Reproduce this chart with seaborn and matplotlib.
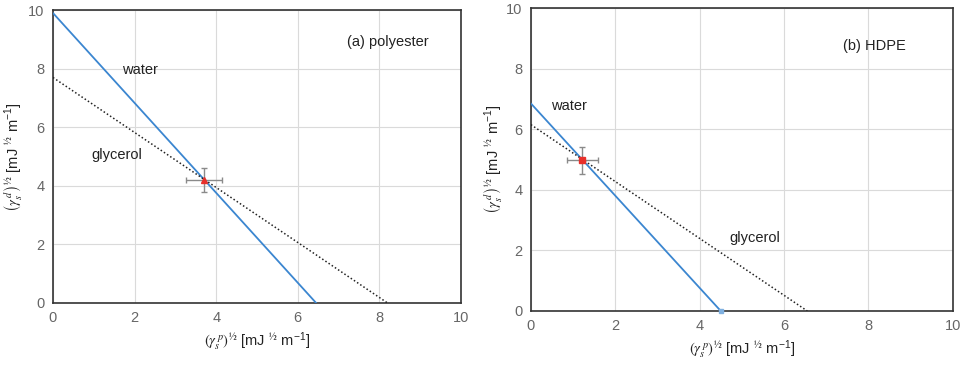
import matplotlib
matplotlib.use("Agg")
import matplotlib.pyplot as plt
import seaborn as sns
import pandas as pd

sns.set_style("white")
plt.rcParams['font.family'] = ['Liberation Sans', 'DejaVu Sans']
plt.rcParams['mathtext.fontset'] = 'stix'

# Panel (a) polyester
a_water_x = [0.0, 6.45]
a_water_y = [9.9, 0.0]
a_gly_x = [0.0, 8.2]
a_gly_y = [7.7, 0.0]
a_pt = (3.7, 4.2)
a_xerr = 0.45
a_yerr = 0.4

# Panel (b) HDPE
b_water_x = [0.0, 4.5]
b_water_y = [6.85, 0.0]
b_gly_x = [0.0, 6.55]
b_gly_y = [6.15, 0.0]
b_pt = (1.22, 4.97)
b_xerr = 0.37
b_yerr = 0.45

ticks = [0, 2, 4, 6, 8, 10]

fig = plt.figure(figsize=(9.6, 3.67), dpi=100)
axA = fig.add_axes([0.0552, 0.1744, 0.425, 0.798])
axB = fig.add_axes([0.553, 0.1526, 0.4396, 0.8256])

BLUE = '#3b86d0'
xlab = r'$\left(\gamma_s^{\,p}\right)^{½}$ [mJ $^{½}$ m$^{\mathregular{-1}}$]'
ylab = r'$\left(\gamma_s^{\,d}\right)^{½}$ [mJ $^{½}$ m$^{\mathregular{-1}}$]'

def panel(ax, wx, wy, gx, gy, pt, xe, ye, marker, texts, endmark, ylx):
    sns.lineplot(x=wx, y=wy, ax=ax, color=BLUE, lw=1.3, zorder=3)
    sns.lineplot(x=gx, y=gy, ax=ax, color='#222222', lw=1.1, linestyle=(0, (1, 1.5)), zorder=3)
    if endmark:
        ax.plot([wx[-1]], [wy[-1]], marker='s', ms=3, color='#7fb0e0', zorder=4, clip_on=False)
    ax.errorbar([pt[0]], [pt[1]], xerr=xe, yerr=ye, fmt='none', ecolor='#8a8a8a',
                elinewidth=1.0, capsize=2.5, capthick=1.0, zorder=4)
    ax.plot([pt[0]], [pt[1]], marker=marker, ms=4, color='#e8302a', ls='none', zorder=5)
    ax.set_xlim(0, 10)
    ax.set_ylim(0, 10)
    ax.set_xticks(ticks)
    ax.set_yticks(ticks)
    ax.grid(True, color='#dadada', lw=0.8)
    ax.set_axisbelow(True)
    for s in ax.spines.values():
        s.set_color('#333333')
        s.set_linewidth(1.2)
    ax.tick_params(axis='both', labelsize=10.5, colors='#666666', length=0, pad=6)
    ax.set_xlabel(xlab, fontsize=10.5, color='#222222', labelpad=4)
    ax.set_ylabel(ylab, fontsize=10.5, color='#222222')
    ax.yaxis.set_label_coords(ylx, 0.5)
    for (tx, ty, s, ha) in texts:
        ax.text(tx, ty, s, fontsize=10.5, color='#222222', ha=ha, va='center')

panel(axA, a_water_x, a_water_y, a_gly_x, a_gly_y, a_pt, a_xerr, a_yerr, '^',
      [(1.7, 7.95, 'water', 'left'), (0.93, 5.05, 'glycerol', 'left'), (7.2, 8.9, '(a) polyester', 'left')],
      False, -0.068)
panel(axB, b_water_x, b_water_y, b_gly_x, b_gly_y, b_pt, b_xerr, b_yerr, 's',
      [(0.47, 6.77, 'water', 'left'), (4.7, 2.4, 'glycerol', 'left'), (7.4, 8.75, '(b) HDPE', 'left')],
      True, -0.062)

fig.savefig('out.png', dpi=100)
